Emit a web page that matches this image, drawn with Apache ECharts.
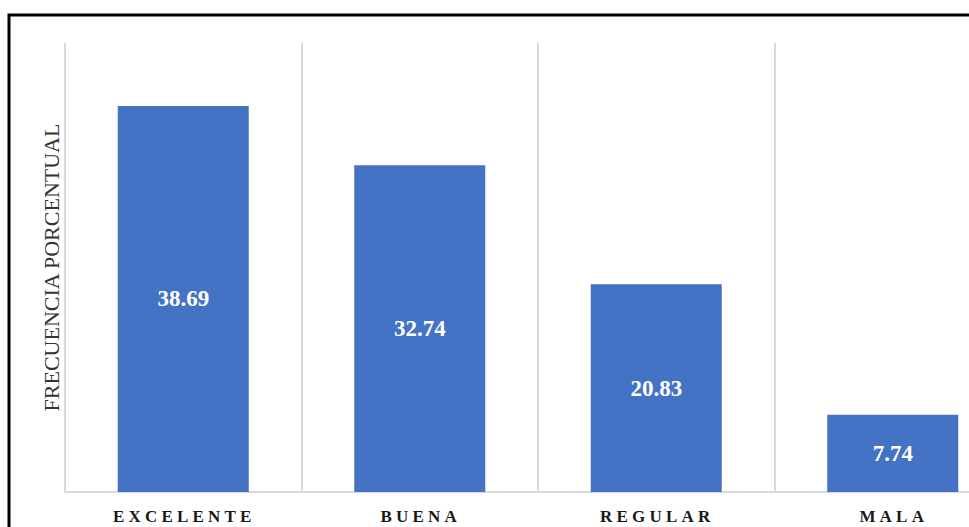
<!DOCTYPE html>
<html>
<head>
<meta charset="utf-8">
<script src="https://cdn.jsdelivr.net/npm/echarts@6/dist/echarts.min.js"></script>
<style>
html,body{margin:0;padding:0;background:#fff;overflow:hidden;width:969px;height:527px;}
#chart{width:1011px;height:527px;}
</style>
</head>
<body>
<div id="chart"></div>
<script>
var categories = ['EXCELENTE', 'BUENA', 'REGULAR', 'MALA'];
var values = [38.69, 32.74, 20.83, 7.74];
var yAxisTitle = 'FRECUENCIA PORCENTUAL';

var chart = echarts.init(document.getElementById('chart'), null, {renderer: 'svg'});
chart.setOption({
  animation: false,
  backgroundColor: '#ffffff',
  graphic: [{
    type: 'rect',
    shape: {x: 9, y: 15, width: 1100, height: 700},
    style: {fill: 'none', stroke: '#000000', lineWidth: 3},
    z: 100
  }],
  grid: {left: 65, top: 43, bottom: 35, right: 0, containLabel: false},
  xAxis: {
    type: 'category',
    data: categories,
    axisLine: {show: true, lineStyle: {color: '#d9d9d9', width: 2}},
    axisTick: {show: false},
    splitLine: {show: true, lineStyle: {color: '#d9d9d9', width: 2}},
    axisLabel: {
      margin: 16,
      color: '#1a1a1a',
      fontFamily: 'Liberation Serif',
      fontWeight: 'bold',
      fontSize: 17
    }
  },
  yAxis: {
    type: 'value',
    min: 0,
    max: 45,
    axisLine: {show: false},
    axisTick: {show: false},
    axisLabel: {show: false},
    splitLine: {show: false},
    name: yAxisTitle,
    nameLocation: 'middle',
    nameGap: 3,
    nameRotate: 90,
    nameTextStyle: {
      color: '#333333',
      fontFamily: 'Liberation Serif',
      fontSize: 22
    }
  },
  series: [{
    type: 'bar',
    data: values,
    barWidth: 131,
    itemStyle: {color: '#4472c4'},
    label: {
      show: true,
      position: 'inside',
      color: '#ffffff',
      fontFamily: 'Liberation Serif',
      fontWeight: 'bold',
      fontSize: 23,
      formatter: function (p) { return p.value.toFixed(2); }
    }
  }]
});

function spaceLabels() {
  var texts = document.querySelectorAll('#chart svg text');
  texts.forEach(function (t) {
    if (categories.indexOf(t.textContent) >= 0) {
      t.style.letterSpacing = '4.2px';
      t.setAttribute('dx', '1');
    }
  });
}
chart.on('finished', spaceLabels);
spaceLabels();
</script>
</body>
</html>
